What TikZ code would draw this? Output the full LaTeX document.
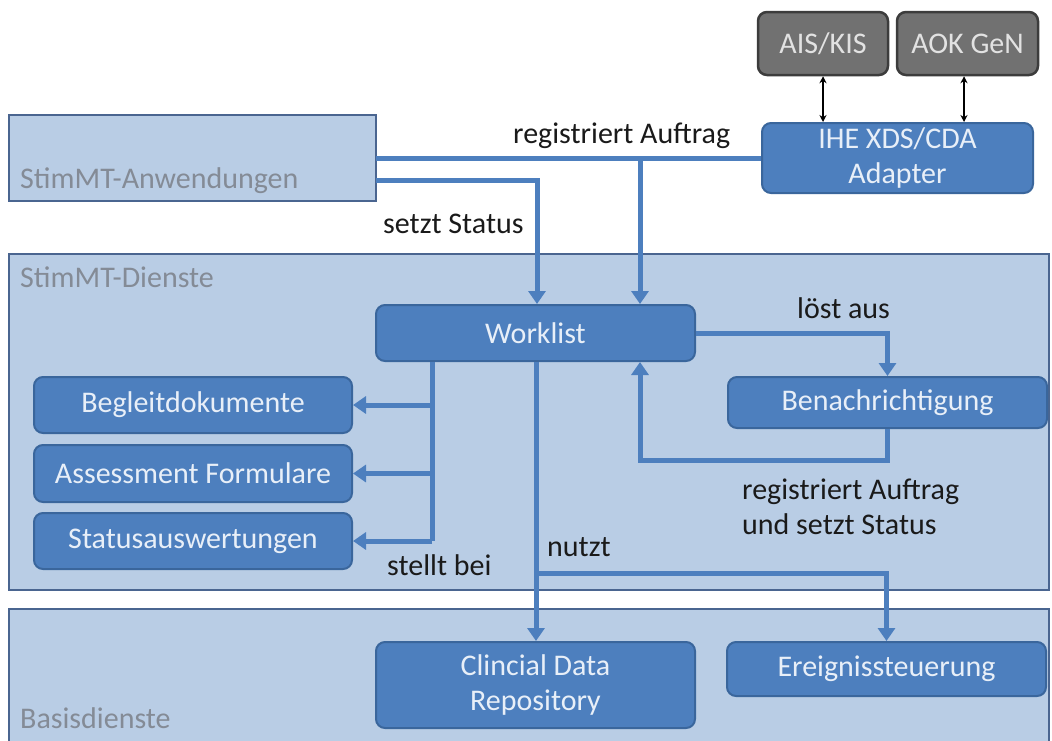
\documentclass[tikz,border=0pt]{standalone}
\usepackage{fontspec}
\setmainfont{Carlito}
\usetikzlibrary{arrows.meta}
\definecolor{layerfill}{HTML}{B9CDE5}
\definecolor{layerline}{HTML}{4A6590}
\definecolor{boxfill}{HTML}{4D7FBE}
\definecolor{boxline}{HTML}{3A669C}
\definecolor{boxtext}{HTML}{E8EFF8}
\definecolor{conncol}{HTML}{4D7FBE}
\definecolor{grayfill}{HTML}{717171}
\definecolor{grayline}{HTML}{3C3C3C}
\definecolor{graytext}{HTML}{E2E2E2}
\definecolor{layertext}{HTML}{848B96}
\definecolor{labeltext}{HTML}{1A1A1A}
\tikzset{
  big/.style={font=\fontsize{30}{35}\selectfont},
  layer/.style={draw=layerline, fill=layerfill, line width=2.5pt},
  layerlabel/.style={big, text=layertext, anchor=base west, inner sep=0pt},
  bluebox/.style={draw=boxline, fill=boxfill, line width=2pt, rounded corners=9pt,
    text=boxtext, big, align=center, inner sep=0pt},
  graybox/.style={draw=grayline, fill=grayfill, line width=2.5pt, rounded corners=9pt,
    text=graytext, big, align=center, inner sep=0pt},
  conn/.style={draw=conncol, line width=5pt},
  connarrow/.style={conn, -{Triangle[width=17pt,length=13pt]}},
  linklabel/.style={big, text=labeltext, anchor=base west, inner sep=0pt, align=left},
  thinarrow/.style={draw=black, line width=1.3pt, {Stealth[length=7pt,width=7pt]}-{Stealth[length=7pt,width=7pt]}}
}
\begin{document}
\begin{tikzpicture}[x=1pt,y=-1pt]
\useasboundingbox (0,0) rectangle (1052,740);
\fill[white] (0,0) rectangle (1052,740);

% layers
\begin{scope}
\clip (0,0) rectangle (1052,740);
\draw[layer] (9,115) rectangle (376,201);
\draw[layer] (9,254) rectangle (1049,590);
\draw[layer] (9,609) rectangle (1049,760);
\end{scope}
\node[layerlabel] (lanw) at (20,188) {StimMT-Anwendungen};
\node[layerlabel] (ldie) at (20,287) {StimMT-Dienste};
\node[layerlabel] (lbas) at (20,728) {Basisdienste};

% external systems
\node[graybox, minimum width=130pt, minimum height=63pt] (ais) at (823,43.5) {AIS/KIS};
\node[graybox, minimum width=141pt, minimum height=63pt] (aok) at (967.5,43.5) {AOK GeN};
\node[bluebox, minimum width=271pt, minimum height=70pt] (adp) at (897.5,158) {IHE XDS/CDA\\Adapter};

% services
\node[bluebox, minimum width=319pt, minimum height=56pt] (wl) at (535.5,333) {Worklist};
\node[bluebox, minimum width=319pt, minimum height=51pt] (ben) at (887.5,402.5) {Benachrichtigung};
\node[bluebox, minimum width=318pt, minimum height=56pt] (beg) at (193,405) {Begleitdokumente};
\node[bluebox, minimum width=318pt, minimum height=57pt] (ass) at (193,473.5) {Assessment Formulare};
\node[bluebox, minimum width=318pt, minimum height=56pt] (sta) at (193,541) {Statusauswertungen};

% base services
\node[bluebox, minimum width=319pt, minimum height=86pt] (cdr) at (535.5,685) {Clincial Data\\Repository};
\node[bluebox, minimum width=319pt, minimum height=54pt] (ere) at (886.5,669) {Ereignissteuerung};

% junction points
\coordinate (a1) at (376,158);
\coordinate (j1) at (640,158);
\coordinate (a2) at (376,180);
\coordinate (j2) at (537,180);
\coordinate (k1) at (432,405);
\coordinate (k2) at (432,473.5);
\coordinate (k3) at (432,541);
\coordinate (n1) at (536,573);
\coordinate (b1) at (887.5,460);
\coordinate (b2) at (640,460);
\coordinate (x2) at (964,0);

% connectors
\draw[conn] (a1) -- (adp.west);
\draw[connarrow] (j1) -- (wl.north -| j1);
\draw[connarrow] (a2) -- (j2) -- (wl.north -| j2);
\draw[connarrow] (wl.east) -| (ben.north);
\draw[connarrow] (ben.south) -- (b1) -- (b2) -- (wl.south -| b2);
\draw[conn] (wl.south -| k1) -- (k3);
\draw[connarrow] (k1) -- (beg.east);
\draw[connarrow] (k2) -- (ass.east);
\draw[connarrow] (k3) -- (sta.east);
\draw[connarrow] (wl.south -| n1) -- (cdr.north -| n1);
\draw[connarrow] (n1) -| (ere.north);

\draw[thinarrow] (ais.south) -- (adp.north -| ais.south);
\draw[thinarrow] (aok.south -| x2) -- (adp.north -| x2);

% connector labels
\node[linklabel] (t1) at (513,143) {registriert Auftrag};
\node[linklabel] (t2) at (383,233) {setzt Status};
\node[linklabel] (t3) at (797,318) {löst aus};
\node[linklabel, anchor=north west] (t4) at (742,479) {registriert Auftrag\\und setzt Status};
\node[linklabel] (t5) at (387,575) {stellt bei};
\node[linklabel] (t6) at (547,556) {nutzt};
\end{tikzpicture}
\end{document}
